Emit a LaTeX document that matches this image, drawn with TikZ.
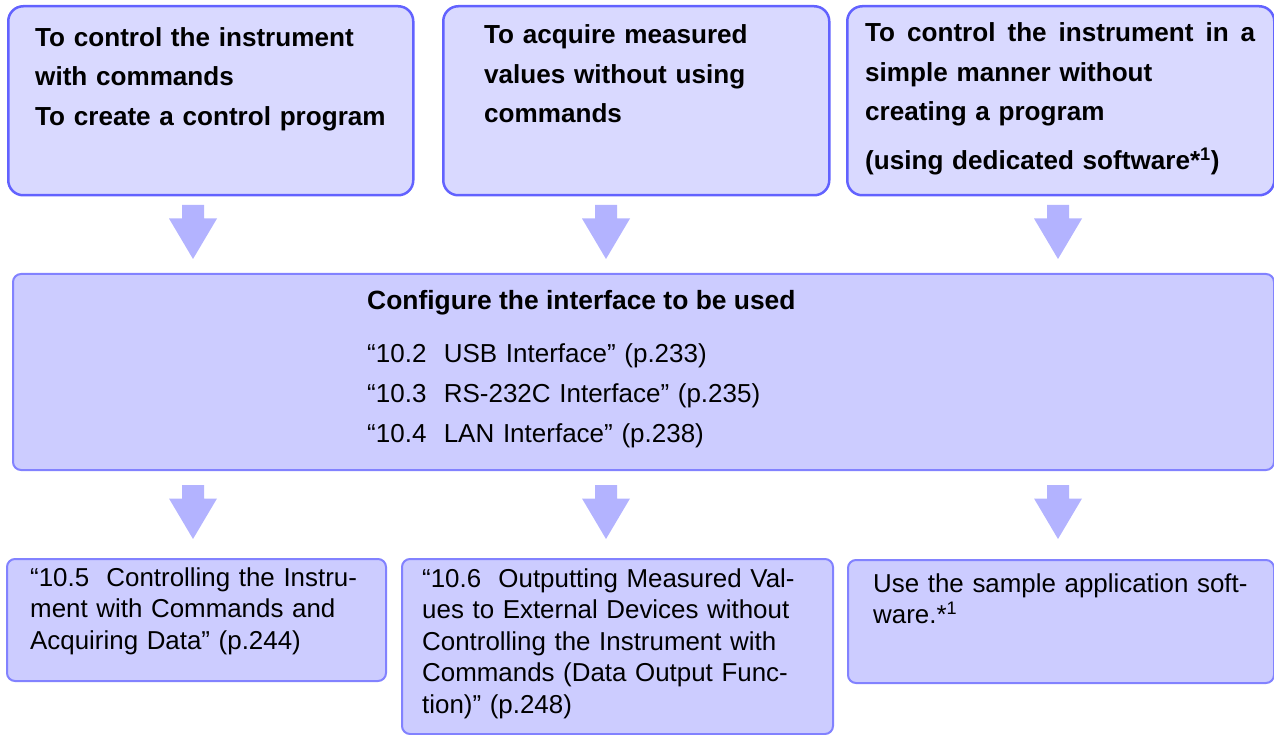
\documentclass[tikz,border=0pt]{standalone}
\usepackage{fontspec}
\setmainfont{Liberation Sans}
\definecolor{topfill}{HTML}{D9D9FF}
\definecolor{topdraw}{HTML}{6262FF}
\definecolor{boxfill}{HTML}{CCCCFF}
\definecolor{boxdraw}{HTML}{8282FF}
\definecolor{arrfill}{HTML}{B3B3FF}
\begin{document}
\begin{tikzpicture}[x=1pt,y=-1pt,
  topbox/.style={draw=topdraw, fill=topfill, line width=2.5pt, rounded corners=15pt, inner sep=0pt, anchor=north west},
  lowbox/.style={draw=boxdraw, fill=boxfill, line width=2pt, rounded corners=8pt, inner sep=0pt, anchor=north west},
  boldtxt/.style={anchor=base west, inner sep=0pt, align=left, text width=420pt, font=\fontsize{26.1}{39.5}\selectfont\bfseries},
  midtxt/.style={anchor=base west, inner sep=0pt, align=left, text width=500pt, font=\fontsize{26}{40}\selectfont},
  lowtxt/.style={anchor=base west, inner sep=0pt, align=left, text width=420pt, font=\fontsize{25.9}{31.6}\selectfont},
  downarr/.pic={\fill[arrfill] (-11,0) -- (11,0) -- (11,13.5) -- (24,13.5) -- (0,54) -- (-24,13.5) -- (-11,13.5) -- cycle;}]
\useasboundingbox (0,0) rectangle (1274,735);
% top boxes
\node[topbox, minimum width=405pt, minimum height=189pt] (t1) at (7,5) {};
\node[topbox, minimum width=386pt, minimum height=189pt] (t2) at (442,5) {};
\node[topbox, minimum width=427pt, minimum height=189pt] (t3) at (846,5) {};
\node[boldtxt] (t1txt) at (35,46.5) {To control the instrument\\with commands\\To create a control program};
\node[boldtxt] (t2txt) at (484,44) {To acquire measured\\values without using\\commands};
\node[boldtxt] (t3txt) at (865,42) {\hbox to 390pt{To\hfill control\hfill the\hfill instrument\hfill in\hfill a}\\simple manner without\\creating a program\\[9pt](using dedicated software*\textsuperscript{1})};
% arrows top
\pic (a1) at (193,205) {downarr};
\pic (a2) at (606,205) {downarr};
\pic (a3) at (1058,205) {downarr};
% middle box
\node[lowbox, minimum width=1261pt, minimum height=196pt] (mid) at (12,273) {};
\node[anchor=base west, inner sep=0pt, font=\fontsize{26.4}{40}\selectfont\bfseries] (midtitle) at (367,309) {Configure the interface to be used};
\node[midtxt] (midtxt) at (367,362) {“10.2\ \ USB Interface” (p.233)\\“10.3\ \ RS-232C Interface” (p.235)\\“10.4\ \ LAN Interface” (p.238)};
% arrows bottom
\pic (b1a) at (193,485) {downarr};
\pic (b2a) at (606,485) {downarr};
\pic (b3a) at (1058,485) {downarr};
% bottom boxes
\node[lowbox, minimum width=379pt, minimum height=122pt] (b1) at (6,558) {};
\node[lowbox, minimum width=431pt, minimum height=175pt] (b2) at (401,558) {};
\node[lowbox, minimum width=426pt, minimum height=123pt] (b3) at (847,559) {};
\node[lowtxt] (b1txt) at (30,586) {“10.5\ \ Controlling the Instru-\\ment with Commands and\\Acquiring Data” (p.244)};
\node[lowtxt] (b2txt) at (422,587) {“10.6\ \ Outputting Measured Val-\\ues to External Devices without\\Controlling the Instrument with\\Commands (Data Output Func-\\tion)” (p.248)};
\node[lowtxt] (b3txt) at (873,592) {Use the sample application soft-\\ware.*\textsuperscript{1}};
\end{tikzpicture}
\end{document}
